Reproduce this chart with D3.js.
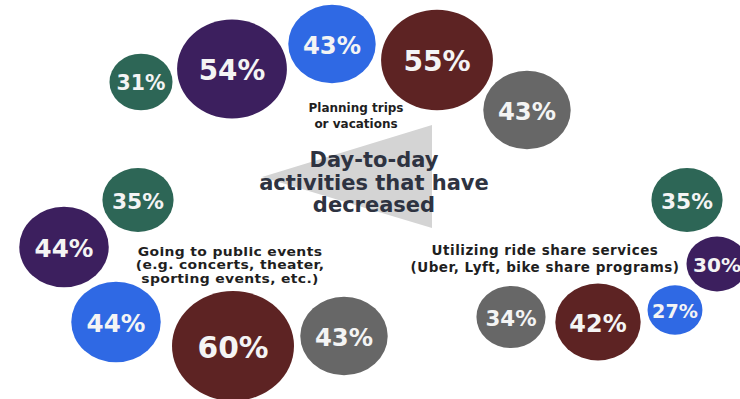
<!DOCTYPE html>
<html>
<head>
<meta charset="utf-8">
<script src="https://cdn.jsdelivr.net/npm/d3@7"></script>
<style>
  html, body { margin: 0; padding: 0; background: #fff; }
  svg { display: block; }
</style>
</head>
<body>
<svg id="chart" width="740" height="399"></svg>
<script>
// Activities that have decreased: share of each group, per activity
const categories = ["planning", "events", "rideshare"];
const categoryLabels = [
  ["Planning trips", "or vacations"],
  ["Going to public events", "(e.g. concerts, theater,", "sporting events, etc.)"],
  ["Utilizing ride share services", "(Uber, Lyft, bike share programs)"]
];
const seriesNames = ["green", "purple", "blue", "maroon", "grey"];
const greenValues  = [31, 35, 35];
const purpleValues = [54, 44, 30];
const blueValues   = [43, 44, 27];
const maroonValues = [55, 60, 42];
const greyValues   = [43, 43, 34];
const titleLines = ["Day-to-day", "activities that have", "decreased"];

const seriesValues = [greenValues, purpleValues, blueValues, maroonValues, greyValues];
const colors = ["#2d6656", "#3c1f5e", "#2f69e4", "#5d2323", "#676767"];

// Bubble placement for each activity cluster (layout units = px)
const placement = {
  planning:  { green: [141, 82],  purple: [232, 69],  blue: [332, 44],  maroon: [437, 60],  grey: [527, 110] },
  events:    { green: [138, 200], purple: [64, 247],  blue: [116, 322], maroon: [233, 346], grey: [344, 336] },
  rideshare: { green: [687, 200], purple: [717, 264], blue: [675, 310], maroon: [598, 322], grey: [511, 317] }
};
const labelAnchors = {
  planning:  { x: 356, y: 112, size: 12, lead: 15.5, spacing: 0, stretch: 1 },
  events:    { x: 230, y: 256, size: 11.6, lead: 13.5, spacing: 0.3, stretch: 1.2 },
  rideshare: { x: 545, y: 254.5, size: 13.5, lead: 17, spacing: 0.5, stretch: 1 }
};

const svg = d3.select("#chart");

// Radius is linear in the value; bubbles are slightly wider than tall
const r = d3.scaleLinear().domain([0, 60]).range([0, 61]);
const aspect = 0.9;
const fontSize = d3.scaleLinear().domain([0, 60]).range([10.5, 29.7]);
const color = d3.scaleOrdinal().domain(seriesNames).range(colors);

// Pointer wedge behind the title
svg.append("path")
  .attr("d", d3.line()([[432, 125], [432, 228], [262, 177]]) + "Z")
  .attr("fill", "#d4d4d4");

const bubbles = [];
categories.forEach((cat, ci) => {
  seriesNames.forEach((s, si) => {
    const [cx, cy] = placement[cat][s];
    bubbles.push({ cat, series: s, value: seriesValues[si][ci], cx, cy });
  });
});

const g = svg.append("g").selectAll("g.bubble")
  .data(bubbles)
  .join("g")
  .attr("class", "bubble");

g.append("ellipse")
  .attr("cx", d => d.cx)
  .attr("cy", d => d.cy)
  .attr("rx", d => r(d.value))
  .attr("ry", d => r(d.value) * aspect)
  .attr("fill", d => color(d.series));

g.append("text")
  .attr("x", d => d.cx)
  .attr("y", d => d.cy + fontSize(d.value) * 0.36 + 1)
  .attr("text-anchor", "middle")
  .attr("font-family", "DejaVu Sans, sans-serif")
  .attr("font-weight", "bold")
  .attr("font-size", d => fontSize(d.value))
  .attr("fill", "#f4f4f4")
  .text(d => d.value + "%");

// Activity captions
categories.forEach((cat, ci) => {
  const a = labelAnchors[cat];
  const t = svg.append("text")
    .attr("transform", `translate(${a.x},0) scale(${a.stretch},1)`)
    .attr("text-anchor", "middle")
    .attr("font-family", "DejaVu Sans, sans-serif")
    .attr("font-weight", "bold")
    .attr("font-size", a.size)
    .attr("letter-spacing", a.spacing)
    .attr("fill", "#1f1f1f");
  categoryLabels[ci].forEach((line, li) => {
    t.append("tspan").attr("x", 0).attr("y", a.y + li * a.lead).text(line);
  });
});

// Title
const title = svg.append("text")
  .attr("text-anchor", "middle")
  .attr("font-family", "DejaVu Sans, sans-serif")
  .attr("font-weight", "bold")
  .attr("font-size", 21)
  .attr("fill", "#2e3341");
titleLines.forEach((line, i) => {
  title.append("tspan").attr("x", 374).attr("y", 167 + i * 22.5).text(line);
});
</script>
</body>
</html>
